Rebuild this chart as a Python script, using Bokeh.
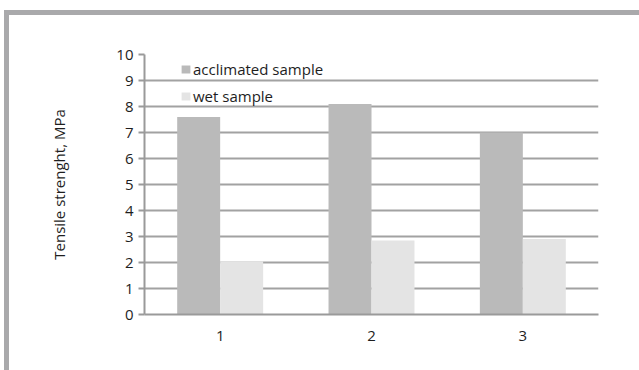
from bokeh.plotting import figure
from bokeh.models import ColumnDataSource, FactorRange, Range1d, FixedTicker, Legend, LegendItem
from bokeh.transform import dodge
from bokeh.layouts import column
from bokeh.embed import file_html
from bokeh.resources import INLINE

# Tensile strength of three specimens, acclimated vs. wet
categories = ["1", "2", "3"]
acclimated = [7.6, 8.1, 7.0]
wet = [2.05, 2.85, 2.9]
y_ticks = list(range(0, 11))

FONT = "Open Sans"
TEXT = "#1e1e1e"
GRID = "#a2a2a2"
AXIS = "#9a9a9a"
FRAME = "#a9a9ab"

source = ColumnDataSource(data=dict(cat=categories, acclimated=acclimated, wet=wet))

p = figure(
    width=630, height=355,
    x_range=FactorRange(factors=categories, range_padding=0),
    y_range=Range1d(0, 10),
    output_backend="svg", toolbar_location=None,
    min_border_left=135, min_border_top=39, min_border_right=41, min_border_bottom=56,
)
p.outline_line_color = None
p.background_fill_color = "white"
p.border_fill_color = "white"

bw = 0.284
r1 = p.vbar(x=dodge("cat", -bw / 2, range=p.x_range), top="acclimated", width=bw,
            source=source, fill_color="#bababa", line_color=None)
r2 = p.vbar(x=dodge("cat", bw / 2, range=p.x_range), top="wet", width=bw,
            source=source, fill_color="#e4e4e4", line_color=None)

# grid
p.xgrid.grid_line_color = None
p.ygrid.grid_line_color = GRID
p.ygrid.grid_line_width = 2
p.ygrid.level = "underlay"

# y axis
p.yaxis.ticker = FixedTicker(ticks=y_ticks)
p.yaxis.axis_line_color = AXIS
p.yaxis.axis_line_width = 2
p.yaxis.major_tick_line_color = AXIS
p.yaxis.major_tick_line_width = 2
p.yaxis.major_tick_out = 6
p.yaxis.major_tick_in = 0
p.yaxis.minor_tick_line_color = None
p.yaxis.major_label_standoff = 5
p.yaxis.axis_label = "Tensile strenght, MPa"
p.yaxis.axis_label_standoff = 44
p.yaxis.axis_label_text_font = FONT
p.yaxis.axis_label_text_font_size = "15px"
p.yaxis.axis_label_text_font_style = "normal"
p.yaxis.axis_label_text_color = TEXT

# x axis
p.xaxis.axis_line_color = AXIS
p.xaxis.axis_line_width = 2
p.xaxis.major_tick_line_color = None
p.xaxis.minor_tick_line_color = None
p.xaxis.major_label_standoff = 10

for ax in (p.xaxis, p.yaxis):
    ax.major_label_text_font = FONT
    ax.major_label_text_font_size = "15px"
    ax.major_label_text_color = TEXT

legend = Legend(
    items=[LegendItem(label="acclimated sample", renderers=[r1]),
           LegendItem(label="wet sample", renderers=[r2])],
    location=(36, 208),
    padding=0, margin=0, spacing=7,
    glyph_width=11, glyph_height=10, label_height=20,
    label_standoff=2,
    label_text_font=FONT, label_text_font_size="15px", label_text_color=TEXT,
    background_fill_alpha=0, border_line_color=None,
)
p.add_layout(legend)

# outer panel frame: thick grey rule along the top and left edges
page = column(p, width=635, height=360, styles={
    "margin-left": "4px", "margin-top": "10px",
    "border-top": f"5px solid {FRAME}", "border-left": f"5px solid {FRAME}",
})

open("out.html", "w").write(file_html(page, INLINE))
